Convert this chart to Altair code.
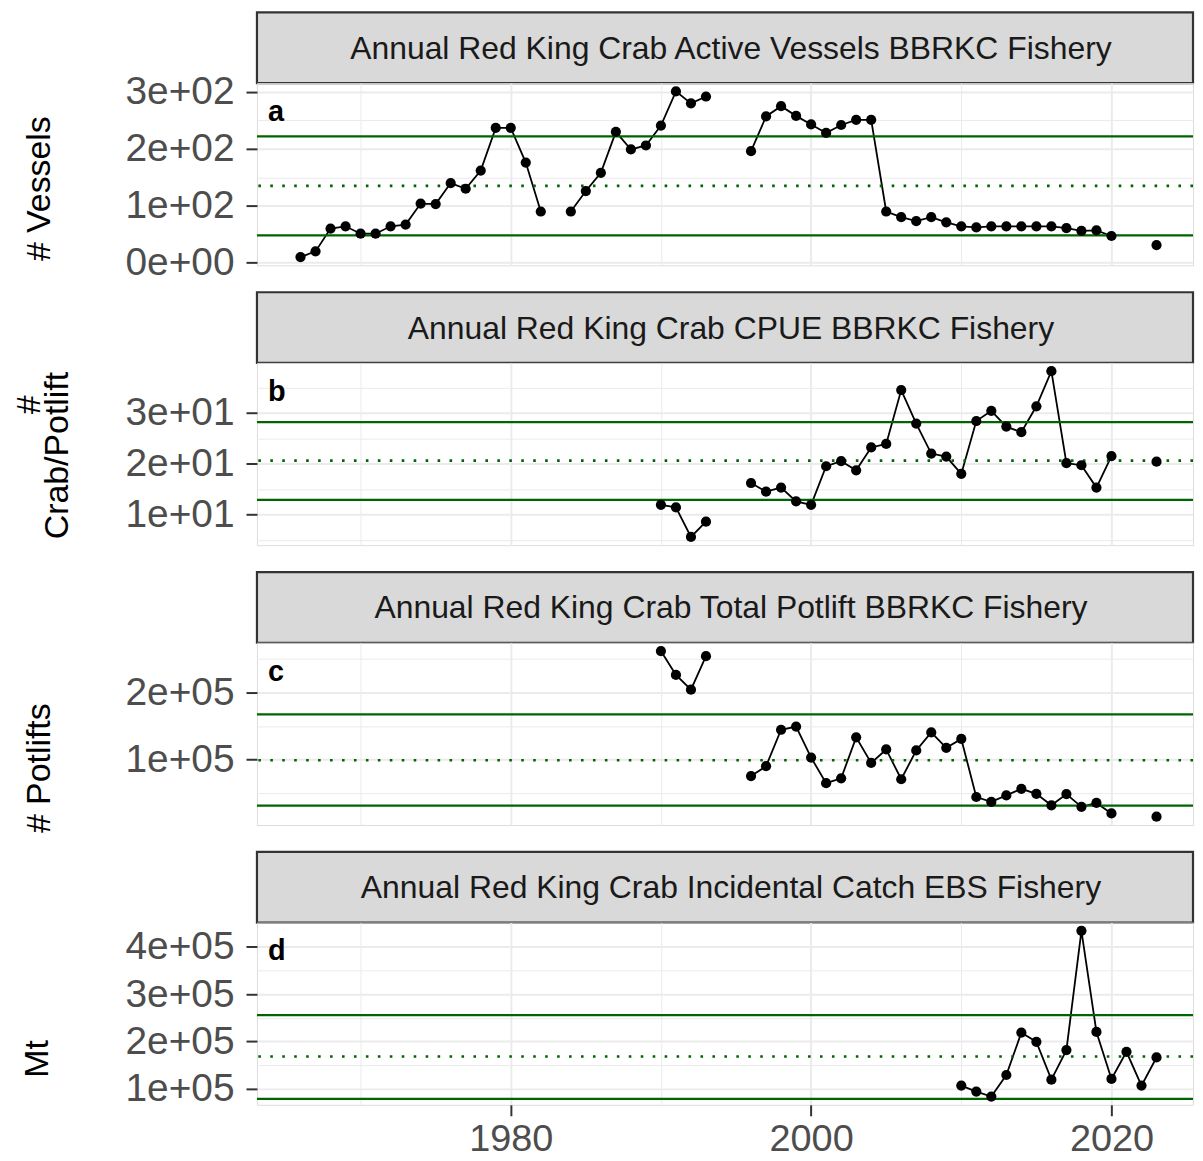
import json
import altair as alt
import pandas as pd

FONT = "Liberation Sans"

# ---------------- data ----------------
strip_titles = [
    "Annual Red King Crab Active Vessels BBRKC Fishery",
    "Annual Red King Crab CPUE BBRKC Fishery",
    "Annual Red King Crab Total Potlift BBRKC Fishery",
    "Annual Red King Crab Incidental Catch EBS Fishery",
]
panel_letters = ["a", "b", "c", "d"]
y_titles = [["# Vessels"], ["#", "Crab/Potlift"], ["# Potlifts"], ["Mt"]]

years_a = list(range(1966, 1983)) + list(range(1984, 1994)) + list(range(1996, 2021)) + [2023]
vessels = [10, 20, 60, 64, 51, 51, 64, 67, 104, 103, 140, 130, 162, 237, 237, 176, 90,
           90, 126, 158, 230, 199, 206, 241, 301, 280, 292,
           196, 257, 275, 258, 243, 228, 242, 251, 251, 90, 80, 73, 80, 71, 64, 62, 64, 64, 64, 64, 64, 61, 56, 57, 47,
           31]

years_b = list(range(1990, 1994)) + list(range(1996, 2021)) + [2023]
cpue = [11.9, 11.4, 5.6, 8.6,
        16.2, 14.5, 15.3, 12.6, 11.9, 19.5, 20.5, 18.7, 23.2, 23.9, 34.5, 27.9, 22.0, 21.4, 18.0,
        28.4, 30.4, 27.3, 26.2, 31.3, 38.2, 20.1, 19.7, 15.3, 21.5,
        20.4]

years_c = list(range(1990, 1994)) + list(range(1996, 2021)) + [2023]
potlifts = [261600, 226000, 204100, 253900,
            75700, 90300, 144500, 149300, 103100, 65000, 72300, 133200, 95200, 115200, 70900,
            113800, 140600, 117700, 130900, 44500, 37200, 46900, 56700, 49300, 32200, 48900,
            29900, 35700, 20100,
            15200]

years_d = list(range(2010, 2024))
incidental = [106900, 94300, 83900, 129300, 218700, 199200, 119500, 181800, 433300,
              220100, 121000, 178200, 106900, 166300]

# reference lines: upper (mean + sd), mean, lower (mean - sd)
upper_lines = [222, 28.2, 167500, 255800]
mean_lines = [135, 20.6, 99100, 168300]
lower_lines = [48, 12.9, 31800, 79000]

# axis ticks
y_major = [[0, 100, 200, 300], [10, 20, 30], [100000, 200000], [100000, 200000, 300000, 400000]]
y_major_labels = [["0e+00", "1e+02", "2e+02", "3e+02"], ["1e+01", "2e+01", "3e+01"],
                  ["1e+05", "2e+05"], ["1e+05", "2e+05", "3e+05", "4e+05"]]
y_minor = [[50, 150, 250], [5, 15, 25, 35], [50000, 150000, 250000], [150000, 250000, 350000]]
x_major = [1980, 2000, 2020]
x_major_labels = ["1980", "2000", "2020"]
x_minor = [1970, 1990, 2010]

series = [(years_a, vessels), (years_b, cpue), (years_c, potlifts), (years_d, incidental)]

# ---------------- layout ----------------
W = 940
STRIP_H = 71
PANEL_H = 183
GAP = 27
X_DOMAIN = [1963.1, 2025.43]
# y-title line positions relative to the plot's top-left corner (x, y)
TITLE_POS = [[(-218, 106)], [(-228, 42), (-200, 93)], [(-218, 126)], [(-220, 137)]]

BORDER = "#333333"
GREEN = "#006400"
GRID = "#EBEBEB"


def label_chain(vals, labs):
    expr = "''"
    for v, l in reversed(list(zip(vals, labs))):
        expr = f"datum.value == {v} ? '{l}' : {expr}"
    return expr


def make_df(years, values):
    segs, s = [], 0
    for i, y in enumerate(years):
        if i > 0 and y - years[i - 1] > 1:
            s += 1
        segs.append(s)
    return pd.DataFrame({"year": years, "value": values, "seg": segs})


def strip_chart(i):
    top = 0 if i == 0 else GAP
    d = pd.DataFrame({"t": [strip_titles[i]]})
    rect = alt.Chart(d).mark_rect(fill="#D9D9D9", stroke=BORDER, strokeWidth=2.2).encode(
        x=alt.value(0), x2=alt.value(W), y=alt.value(top), y2=alt.value(top + STRIP_H)
    )
    txt = alt.Chart(d).mark_text(font=FONT, fontSize=32, color="#1A1A1A").encode(
        x=alt.value(W / 2 + 6), y=alt.value(top + STRIP_H / 2 + 1), text="t:N"
    )
    return alt.layer(rect, txt).properties(
        width=W, height=top + STRIP_H, view=alt.ViewBackground(stroke="transparent")
    )


def panel_chart(i):
    years, values = series[i]
    df = make_df(years, values)
    lo, hi = min(values), max(values)
    pad = 0.05 * (hi - lo)
    yscale = alt.Scale(domain=[lo - pad, hi + pad], nice=False, zero=False)
    xscale = alt.Scale(domain=X_DOMAIN, nice=False, zero=False)

    ymin_test = f"indexof({json.dumps(y_minor[i])}, datum.value) >= 0"
    xmin_test = f"indexof({json.dumps(x_minor)}, datum.value) >= 0"

    yaxis = alt.Axis(
        values=sorted(y_major[i] + y_minor[i]),
        tickCount=50,
        labelExpr=label_chain(y_major[i], y_major_labels[i]),
        title=None,
        grid=True, gridColor=GRID,
        gridWidth={"condition": {"test": ymin_test, "value": 1.0}, "value": 2.0},
        tickOpacity={"condition": {"test": ymin_test, "value": 0}, "value": 1},
        tickSize=11, tickWidth=2, tickColor=BORDER,
        labelPadding=12, labelFontSize=39, labelColor="#4D4D4D", labelFont=FONT,
        labelFlush=False, labelOverlap=False,
        domain=False,
    )
    if i == 3:
        xaxis = alt.Axis(
            values=sorted(x_major + x_minor),
            tickCount=50,
            labelExpr=label_chain(x_major, x_major_labels),
            title=None, grid=True, gridColor=GRID,
            gridWidth={"condition": {"test": xmin_test, "value": 1.0}, "value": 2.0},
            tickOpacity={"condition": {"test": xmin_test, "value": 0}, "value": 1},
            tickSize=11, tickWidth=2, tickColor=BORDER,
            labelPadding=5, labelFontSize=38, labelColor="#4D4D4D", labelFont=FONT,
            labelFlush=False, labelOverlap=False, domain=False,
        )
    else:
        xaxis = alt.Axis(
            values=sorted(x_major + x_minor), tickCount=50,
            labels=False, ticks=False, domain=False,
            title=None, grid=True, gridColor=GRID,
            gridWidth={"condition": {"test": xmin_test, "value": 1.0}, "value": 2.0},
        )

    base = alt.Chart(df)
    line = base.mark_line(color="black", strokeWidth=1.8).encode(
        x=alt.X("year:Q", scale=xscale, axis=xaxis),
        y=alt.Y("value:Q", scale=yscale, axis=yaxis),
        detail="seg:N",
    )
    pts = base.mark_circle(color="black", size=105, opacity=1).encode(
        x="year:Q", y="value:Q"
    )
    solid = alt.Chart(pd.DataFrame({"value": [upper_lines[i], lower_lines[i]]})).mark_rule(
        color=GREEN, strokeWidth=2.3
    ).encode(y="value:Q")
    dotted = alt.Chart(pd.DataFrame({"value": [mean_lines[i]]})).mark_rule(
        color=GREEN, strokeWidth=2.6, strokeDash=[2.6, 9.4], strokeCap="butt"
    ).encode(y="value:Q")
    letter = alt.Chart(pd.DataFrame({"t": [panel_letters[i]]})).mark_text(
        font=FONT, fontSize=29, fontWeight="bold", color="black", align="left", baseline="middle"
    ).encode(x=alt.value(11), y=alt.value(29), text="t:N")

    layers = [line, solid, dotted, pts, letter]
    for line_text, (tx, ty) in zip(y_titles[i], TITLE_POS[i]):
        layers.append(
            alt.Chart(pd.DataFrame({"t": [line_text]})).mark_text(
                font=FONT, fontSize=34, color="black", angle=270,
                align="center", baseline="middle"
            ).encode(x=alt.value(tx), y=alt.value(ty), text="t:N")
        )

    return alt.layer(*layers).properties(width=W, height=PANEL_H)


charts = []
for i in range(4):
    charts.append(strip_chart(i))
    charts.append(panel_chart(i))

chart = alt.vconcat(*charts, spacing=0, bounds="flush").properties(
    padding={"left": 4, "top": 0, "right": 0, "bottom": 0}
).configure_view(stroke=BORDER, strokeWidth=2.2).configure(font=FONT, background="white")

chart.save("out.html", embed_options={"renderer": "svg", "actions": False})
